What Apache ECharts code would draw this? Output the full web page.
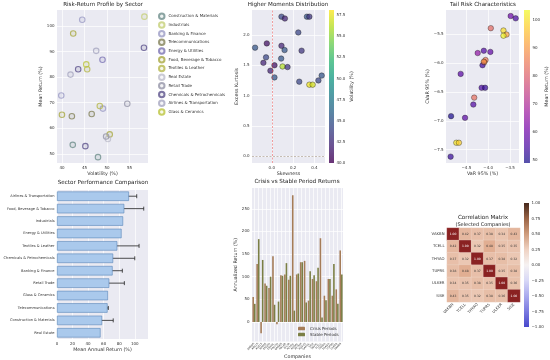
<!DOCTYPE html>
<html><head><meta charset="utf-8">
<script src="https://cdn.jsdelivr.net/npm/echarts@6/dist/echarts.min.js"></script>
<style>html,body{margin:0;padding:0;background:#fff}#c{width:550px;height:360px}</style>
</head><body><div id="c"></div>
<script>
// ---------- DATA ----------
const sectorNames = ['Construction & Materials','Industrials','Banking & Finance','Telecommunications','Energy & Utilities','Food, Beverage & Tobacco','Textiles & Leather','Real Estate','Retail Trade','Chemicals & Petrochemicals','Airlines & Transportation','Glass & Ceramics'];
// panel 1: risk-return per company
const riskVol = [44.5,58.3,42.5,58.2,47.6,49.0,45.4,45.6,43.6,41.9,39.85,54.5,48.4,49.1,40.0,42.2,46.6,49.8,50.2,50.6,42.4,45.2,48.0];
const riskRet = [102.5,103.7,97.1,91.5,90.3,86.8,85.0,83.1,83.1,81.0,72.8,69.6,68.7,67.7,65.3,64.7,65.6,56.8,55.8,57.6,53.5,53.0,48.7];
const riskSector = ['Banking & Finance','Industrials','Food, Beverage & Tobacco','Chemicals & Petrochemicals','Airlines & Transportation','Energy & Utilities','Glass & Ceramics','Textiles & Leather','Chemicals & Petrochemicals','Airlines & Transportation','Banking & Finance','Retail Trade','Textiles & Leather','Banking & Finance','Food, Beverage & Tobacco','Telecommunications','Telecommunications','Retail Trade','Real Estate','Food, Beverage & Tobacco','Construction & Materials','Chemicals & Petrochemicals','Construction & Materials'];
// panel 2: higher moments
const skewness = [0.091,0.123,0.33,0.353,0.249,-0.157,-0.047,0.091,0.12,0.28,-0.054,0.088,-0.079,0.025,0.101,0.148,-0.013,0.025,0.258,0.353,0.384,0.438,0.469];
const kurtosis = [2.30,2.27,2.30,2.30,2.04,1.79,1.86,1.82,1.75,1.74,1.63,1.61,1.54,1.50,1.48,1.47,1.41,1.30,1.23,1.18,1.18,1.25,1.33];
const momentVol = [44,42,45,43,44,45,41,42,45,43,44,45,42,41,56,43,42,45,44,57.8,57,44,45];
// panel 3: tail risk
const var95 = [-3.485,-3.37,-3.94,-3.65,-3.58,-3.65,-4.24,-4.10,-3.95,-4.06,-4.09,-4.13,-4.63,-4.15,-4.07,-4.32,-4.34,-4.85,-4.53,-4.73,-4.67,-4.86,-4.10];
const cvar95 = [-5.19,-5.23,-5.40,-5.44,-5.51,-5.53,-5.83,-5.79,-5.81,-5.95,-5.99,-6.04,-6.19,-6.43,-6.43,-6.60,-6.72,-6.92,-6.95,-7.38,-7.38,-7.62,-5.98];
const tailRet = [60,55,82,100,92,103,65,56,58,85,90,54,57,55,53,83,56,50,57,101,98,53,88];
// panel 4: sector comparison
const barSectors = ['Airlines & Transportation','Food, Beverage & Tobacco','Industrials','Energy & Utilities','Textiles & Leather','Chemicals & Petrochemicals','Banking & Finance','Retail Trade','Glass & Ceramics','Telecommunications','Construction & Materials','Real Estate'];
const barMeans = [92.5,86.5,85,83,77.5,72.2,71.5,67.2,65.5,65,58,56];
const barErr = [10,25,0,0,28,27.8,12.5,19.4,0,1,14.3,0];
// panel 5: crisis vs stable
const companies = ['AKBNK','ARCLK','ASELS','BIMAS','EKGYO','EREGL','FROTO','GARAN','HALKB','ISCTR','KCHOL','KOZAL','PETKM','PGSUS','SAHOL','SISE','TAVHL','TCELL','THYAO','TOASO','TUPRS','ULKER','VAKBN'];
const crisisRet = [55,128,-25,85,75,145,-5,103,105,93,280,105,132,135,47,95,90,185,58,95,58,72,158];
const stableRet = [40,183,137,80,100,38,45,102,130,102,25,107,132,43,112,103,120,10,48,95,128,40,105];
// panel 6: correlation
const corrNames = ['VAKBN','TCELL','THYAO','TUPRS','ULKER','SISE'];
const corrMatrix = [
  [1.00,0.42,0.37,0.38,0.34,0.43],
  [0.42,1.00,0.32,0.48,0.35,0.35],
  [0.37,0.32,1.00,0.37,0.38,0.32],
  [0.38,0.48,0.37,1.00,0.35,0.38],
  [0.34,0.35,0.38,0.35,1.00,0.36],
  [0.43,0.35,0.32,0.38,0.36,1.00]];
// tick values
const t1x=[40,45,50,55], t1y=[50,60,70,80,90,100];
const t2x=[0,0.2,0.4], t2y=[0,0.5,1,1.5,2], t2c=[40,42.5,45,47.5,50,52.5,55,57.5];
const t3x=[-4.5,-4,-3.5], t3y=[-7.5,-7,-6.5,-6,-5.5], t3c=[50,60,70,80,90,100];
const t4x=[0,20,40,60,80,100];
const t5y=[0,50,100,150,200,250];
const t6c=[-1,-0.75,-0.5,-0.25,0,0.25,0.5,0.75,1];

// ---------- STYLE ----------
const FONT='DejaVu Sans', TXT='#333', BG='#eaeaf2';
const sectorColors=['#6f8f8c','#c6cf78','#9c9cc6','#83825a','#7c74b4','#a9a943','#b6b84e','#bdbdca','#9595a8','#5c528c','#a7a7c0','#bcc43e'];
const viridis=['#440154','#482878','#3e4989','#31688e','#26828e','#1f9e89','#35b779','#6ece58','#b5de2b','#fde725'];
const plasma=['#0d0887','#46039f','#7201a8','#9c179e','#bd3786','#d8576b','#ed7953','#fb9f3a','#fdca26','#f0f921'];
const corrColors=['#4848cc','#7a7ae0','#aaaaee','#d8d8f6','#f6f2f2','#efd2c2','#e0ab8e','#b86e50','#8a2222'];
const corrBar=['#4848cc','#7a7ae0','#aaaaee','#d8d8f6','#f6f2f2','#efd2c2','#cf9c7c','#9a6446','#45281c'];
function rgba(h,a){const n=parseInt(h.slice(1),16);return `rgba(${n>>16},${(n>>8)&255},${n&255},${a})`;}
function grad(cols,a){const s=cols.slice().reverse();return new echarts.graphic.LinearGradient(0,0,0,1,s.map((c,i)=>({offset:i/(s.length-1),color:rgba(c,a)})));}
const f1=v=>(v<0?'\u2212':'')+Math.abs(v).toFixed(1);
const f2=v=>(v<0?'\u2212':'')+Math.abs(v).toFixed(2);
const lab=(ticks,fmt,extra)=>Object.assign({customValues:ticks,formatter:fmt,fontSize:4,color:TXT,fontFamily:FONT,margin:2.5},extra||{});
const nm={fontSize:4.8,color:TXT,fontFamily:FONT};
function vAxis(g,min,max,ticks,fmt,o){
  o=o||{};
  return Object.assign({type:'value',gridIndex:g,min:min,max:max,
    axisLine:{show:false},axisTick:{show:false,customValues:ticks},
    axisLabel:lab(ticks,fmt,o.label),
    splitLine:{show:o.split!==false,lineStyle:{color:'#fff',width:0.7}},
    nameTextStyle:nm,nameLocation:'middle'},o.ax||{});
}
function hidden(g){return {type:'value',gridIndex:g,min:0,max:1,show:false};}

const grids=[
  {left:57,top:10,width:91,height:153,show:true,backgroundColor:BG,borderWidth:0},
  {left:252,top:10,width:73,height:153,show:true,backgroundColor:BG,borderWidth:0},
  {left:329,top:10,width:5,height:153,show:true,backgroundColor:grad(viridis,0.8),borderWidth:0},
  {left:446,top:10,width:73,height:153,show:true,backgroundColor:BG,borderWidth:0},
  {left:524,top:10,width:7,height:153,show:true,backgroundColor:grad(plasma,0.7),borderWidth:0},
  {left:57,top:190,width:91,height:149,show:true,backgroundColor:BG,borderWidth:0},
  {left:252,top:188,width:91,height:154,show:true,backgroundColor:BG,borderWidth:0},
  {left:447,top:228,width:73,height:74,show:false},
  {left:524,top:203,width:5,height:124,show:true,backgroundColor:grad(corrBar,1),borderWidth:0}
];
const xAxes=[
  vAxis(0,38.9,59.1,t1x,String,{ax:{name:'Volatility (%)',nameGap:8}}),
  vAxis(1,-0.186,0.50,t2x,f1,{ax:{name:'Skewness',nameGap:8}}),
  hidden(2),
  vAxis(3,-4.966,-3.294,t3x,f1,{ax:{name:'VaR 95% (%)',nameGap:8}}),
  hidden(4),
  vAxis(5,0,117,t4x,String,{ax:{name:'Mean Annual Return (%)',nameGap:8}}),
  {type:'category',gridIndex:6,data:companies,axisLine:{show:false},axisTick:{show:false},
    axisLabel:{rotate:45,fontSize:2.6,color:TXT,fontFamily:FONT,margin:2,interval:0},
    splitLine:{show:true,alignWithLabel:true,interval:0,lineStyle:{color:'#fff',width:0.7}},
    name:'Companies',nameLocation:'middle',nameGap:12,nameTextStyle:nm},
  {type:'category',gridIndex:7,data:corrNames,axisLine:{show:false},axisTick:{show:false},
    axisLabel:{rotate:45,fontSize:3.8,color:TXT,fontFamily:FONT,margin:2,interval:0},splitLine:{show:false}},
  hidden(8)
];
const yAxes=[
  vAxis(0,46.4,106.3,t1y,String,{ax:{name:'Mean Return (%)',nameGap:11,nameRotate:90}}),
  vAxis(1,-0.11,2.41,t2y,f1,{ax:{name:'Excess Kurtosis',nameGap:10,nameRotate:90}}),
  vAxis(2,40,58.1,t2c,f1,{split:false,ax:{position:'right',name:'Volatility (%)',nameGap:15,nameRotate:90}}),
  vAxis(3,-7.73,-5.086,t3y,f1,{ax:{name:'CVaR 95% (%)',nameGap:11,nameRotate:90}}),
  vAxis(4,48.9,103.6,t3c,String,{split:false,ax:{position:'right',name:'Mean Return (%)',nameGap:10,nameRotate:90}}),
  {type:'category',gridIndex:5,data:barSectors,inverse:true,axisLine:{show:false},axisTick:{show:false},
    axisLabel:{fontSize:3.6,color:TXT,fontFamily:FONT,margin:2.5,interval:0},splitLine:{show:false}},
  vAxis(6,-43,296,t5y,String,{ax:{name:'Annualized Return (%)',nameGap:11,nameRotate:90}}),
  {type:'category',gridIndex:7,data:corrNames,inverse:true,axisLine:{show:false},axisTick:{show:false},
    axisLabel:{fontSize:3.8,color:TXT,fontFamily:FONT,margin:2.5,interval:0},splitLine:{show:false}},
  vAxis(8,-1,1,t6c,f2,{split:false,ax:{position:'right'}})
];

const series=[];
sectorNames.forEach((s,k)=>{
  const d=[];riskVol.forEach((v,i)=>{if(riskSector[i]===s)d.push([v,riskRet[i]]);});
  series.push({type:'scatter',name:s,xAxisIndex:0,yAxisIndex:0,symbolSize:5.5,data:d,
    itemStyle:{color:rgba(sectorColors[k],0.15),borderColor:sectorColors[k],borderWidth:1.1}});
});
const p2idx=series.length;
series.push({type:'scatter',xAxisIndex:1,yAxisIndex:1,symbolSize:5.5,
  data:skewness.map((v,i)=>[v,kurtosis[i],momentVol[i]]),
  itemStyle:{opacity:0.75,borderColor:'#111',borderWidth:0.5},
  markLine:{silent:true,symbol:'none',label:{show:false},animation:false,
    data:[{xAxis:0,lineStyle:{color:'rgba(230,60,60,0.8)',type:[2,1.5],width:0.6}},
          {yAxis:0,lineStyle:{color:'rgba(140,120,100,0.8)',type:[2,1.5],width:0.6}}]}});
const p3idx=series.length;
series.push({type:'scatter',xAxisIndex:3,yAxisIndex:3,symbolSize:5.5,
  data:var95.map((v,i)=>[v,cvar95[i],tailRet[i]]),
  itemStyle:{opacity:0.7,borderColor:'#111',borderWidth:0.5}});
series.push({type:'bar',xAxisIndex:5,yAxisIndex:5,data:barMeans,barWidth:'76%',
  itemStyle:{color:'#aac9ec',borderColor:'#5a86b8',borderWidth:0.6}});
series.push({type:'custom',xAxisIndex:5,yAxisIndex:5,encode:{x:0,y:1},
  data:barMeans.map((m,i)=>[m,i,barErr[i]]),
  renderItem:function(p,api){
    const m=api.value(0),i=api.value(1),e=api.value(2);
    if(!e)return null;
    const a=api.coord([m-e,i]),b=api.coord([m+e,i]),h=2;
    const st={stroke:'#222',lineWidth:0.8};
    return {type:'group',children:[
      {type:'line',shape:{x1:a[0],y1:a[1],x2:b[0],y2:b[1]},style:st},
      {type:'line',shape:{x1:a[0],y1:a[1]-h,x2:a[0],y2:a[1]+h},style:st},
      {type:'line',shape:{x1:b[0],y1:b[1]-h,x2:b[0],y2:b[1]+h},style:st}]};
  }});
series.push({type:'bar',name:'Crisis Periods',xAxisIndex:6,yAxisIndex:6,data:crisisRet,barWidth:'40%',barGap:'0%',
  itemStyle:{color:'#a57c58'}});
series.push({type:'bar',name:'Stable Periods',xAxisIndex:6,yAxisIndex:6,data:stableRet,barWidth:'40%',barGap:'0%',
  itemStyle:{color:'#7b7f45'}});
const hmIdx=series.length;
const hmData=[];
corrMatrix.forEach((row,r)=>row.forEach((v,c)=>hmData.push({value:[c,r,v],label:{color:v>0.7?'#fff':'#333'}})));
series.push({type:'heatmap',xAxisIndex:7,yAxisIndex:7,data:hmData,
  itemStyle:{borderColor:'rgba(255,255,255,0.5)',borderWidth:0.3},
  label:{show:true,fontSize:3,fontFamily:FONT,formatter:p=>p.value[2].toFixed(2)}});

const titles=[
  ['Risk-Return Profile by Sector',103,5],['Higher Moments Distribution',288,5],['Tail Risk Characteristics',483,5],
  ['Sector Performance Comparison',103,183],['Crisis vs Stable Period Returns',297,182],
  ['Correlation Matrix',483,218],['(Selected Companies)',483,224.5]];
const option={
  animation:false,backgroundColor:'#fff',
  grid:grids,xAxis:xAxes,yAxis:yAxes,series:series,
  visualMap:[
    {type:'continuous',show:false,seriesIndex:p2idx,dimension:2,min:40,max:58.1,inRange:{color:viridis}},
    {type:'continuous',show:false,seriesIndex:p3idx,dimension:2,min:48.9,max:103.6,inRange:{color:plasma}},
    {type:'continuous',show:false,seriesIndex:hmIdx,dimension:2,min:-1,max:1,inRange:{color:corrColors}}],
  legend:[
    {data:sectorNames,orient:'vertical',left:158,top:12.5,itemWidth:5.5,itemHeight:5.5,itemGap:1.2,padding:0,
      textStyle:{fontSize:4,color:TXT,fontFamily:FONT,padding:[0,0,0,-1]}},
    {data:['Crisis Periods','Stable Periods'],orient:'vertical',left:298,top:326.5,itemWidth:7,itemHeight:3.5,itemGap:2,padding:0,
      textStyle:{fontSize:4,color:TXT,fontFamily:FONT}}],
  graphic:titles.map(t=>({type:'text',x:t[1],y:t[2],style:{text:t[0],fontSize:t[0][0]==='('?5:5.6,fontFamily:FONT,fill:'#222',align:'center',verticalAlign:'middle'}}))
};
const chart=echarts.init(document.getElementById('c'),null,{renderer:'canvas'});
chart.setOption(option);
</script></body></html>
